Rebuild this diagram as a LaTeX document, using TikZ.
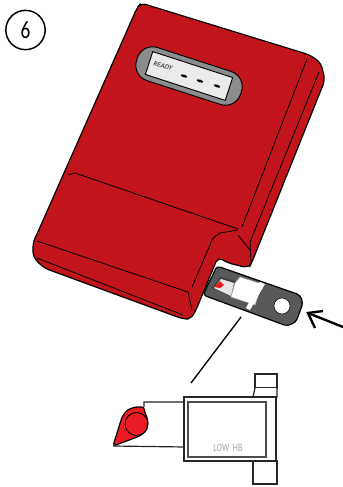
\documentclass[tikz,border=0pt]{standalone}
\usepackage{fontspec}
\setmainfont{Carlito}
\usetikzlibrary{arrows.meta,calc,positioning}
\definecolor{devred}{RGB}{193,20,27}
\definecolor{dropred}{RGB}{237,28,36}
\definecolor{capgray}{RGB}{138,140,142}
\definecolor{stripgray}{RGB}{88,89,91}
\definecolor{hbgray}{RGB}{165,167,170}
\begin{document}
\begin{tikzpicture}[x=.75pt,y=-.75pt,
      fold/.style={draw=black,line width=.6pt},
      outl/.style={draw=black,line width=.9pt,line join=round},
      plan/.style={draw=black!85,line width=.9pt,fill=white}]
      \useasboundingbox (0,0) rectangle (343,487);
      % step number
      \node[circle,draw,line width=1.1pt,minimum size=29.5pt,inner sep=0pt,
        font=\fontsize{17}{17}\selectfont] (stepno) at (25.5,30) {\scalebox{.85}[1.1]{6}};
      % test strip, goes under the body
      \draw[outl,fill=stripgray,rounded corners=2.5pt] (217,266)--(300,295)--(303,303)
        --(296,322)--(287,326)--(203,295)--cycle;
      \fill[white] (282,306) circle (8);
      \draw[black,line width=.4pt] (282,306) circle (8);
      \fill[black!75] (212,288)--(220,277)--(262,288)--(253,306)--cycle;
      \fill[white!90!black] (214,288)--(221,279)--(234,283)--(231,296)--cycle;
      \draw[fill=white,draw=black!35,line width=.4pt] (235,283)--(240,277)--(262,284)--(255,305)--(231,297)--cycle;
      \fill[white] (260,282)--(265,284)--(250,310)--(246,308)--cycle;
      \fill[dropred] (214,287)--(220,281)--(224,285)--(220,288)--cycle;
      % body
      \draw[outl,fill=devred,rounded corners=4pt] (137,8)--(141,3)--(310,55)--(321,63)--(325,80)
        --(252,262)--(249,268)--(228,263)--(218,257)--(196,310)--(191,319)--(183,319)
        --(44,268)--(33,257)--(33,242)--(37,234)--cycle;
      % fold lines
      \draw[fold] (307,59)--(242,227);
      \draw[fold] (319,72)--(250,242)--(251,262);
      \draw[fold] (68,175)--(75,173)--(238,229);
      \draw[fold] (238,230)--(220,233)--(213,238)--(192,287);
      \draw[fold] (238,235)--(250,250);
      \draw[fold] (37,241)--(182,290)--(188,292)--(192,310);
      \draw[fold] (37,258)--(183,315);
      % display
      \node[draw,line width=.7pt,fill=capgray,rounded corners=12pt,rotate=-18,
        minimum width=82pt,minimum height=26pt,inner sep=0pt] (capsule) at (189,76) {};
      \node[draw,line width=.7pt,fill=white!92!black,rotate=-18,
        minimum width=63pt,minimum height=18pt,inner sep=0pt] (screen) at (189,76) {};
      \node[rotate=-18,inner sep=0pt,font=\fontsize{5.2}{6}\selectfont\bfseries\itshape,
        text=black!70] (ready) at (163,66) {READY};
      \foreach \dx/\dy in {184/76,200/81,217/86}
        \fill[black] (\dx,\dy) ellipse[x radius=3.5,y radius=1.3,rotate=-18];
      % pointers
      \coordinate (leadtop) at (241,317);
      \coordinate (leadend) at (191,383);
      \coordinate (arrowtail) at (343,327);
      \coordinate (arrowtip) at (308,313);
      \coordinate (headup) at (323,311);
      \coordinate (headdown) at (315,328);
      \draw[line width=1pt] (leadtop)--(leadend);
      \draw[line width=1.8pt] (arrowtail)--(arrowtip);
      \draw[line width=1.8pt] (headup)--(arrowtip)--(headdown);
      % enlarged strip
      \draw[plan] (255,374) rectangle (277,388);
      \draw[plan] (255,388)--(253,397)--(277,397)--(277,388);
      \draw[plan] (253,461) rectangle (277,484);
      \draw[plan] (144,407)--(144,402)--(185,402)--(185,447)--(113,446);
      \draw[draw=black!85,line width=1.2pt,fill=white] (184,397) rectangle (276,461);
      \draw[draw=black!70,line width=1.2pt] (188,402) rectangle (266,457);
      \draw[outl,fill=dropred,rounded corners=2pt] (113,446)--(122,417)--(127,410)--(135,407)--(144,407)--(145,413)
        --(148,420)--(147,430)--(140,436)--cycle;
      \draw[black,line width=.7pt] (136.5,424) circle (11.5);
      \node[text=hbgray,inner sep=0pt,xscale=.72,font=\fontsize{8.5}{9}\selectfont] (lowhb) at (228,448) {LOW\ \ HB};
    \end{tikzpicture}
\end{document}
